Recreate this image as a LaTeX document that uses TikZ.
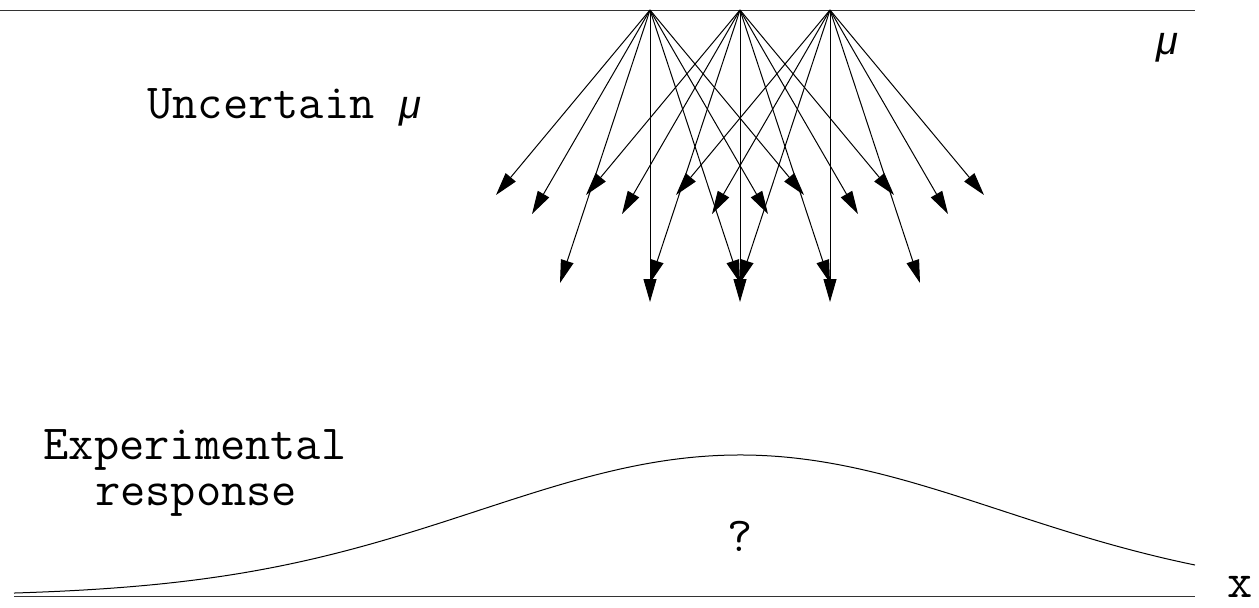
\documentclass[tikz,border=0pt]{standalone}
\usepackage{fontspec}
\setmainfont{Liberation Serif}
\newfontfamily\greekf{Liberation Sans}
\usetikzlibrary{arrows.meta}
\begin{document}
\begin{tikzpicture}[x=0.5pt,y=-0.5pt,
  lbl/.style={font=\ttfamily\fontsize{24.5}{29}\selectfont, inner sep=0pt},
  mu/.style={font=\greekf\itshape\fontsize{20}{26}\selectfont, inner sep=0pt},
  vec/.style={line width=0.5pt, -{Triangle[length=11.5pt,width=6.5pt]}},
  axis/.style={line width=0.5pt, draw=black!80}]
\useasboundingbox (0,0) rectangle (1259,607);
% axes
\coordinate (tl) at (0,10);
\coordinate (tr) at (1195,10);
\coordinate (bl) at (14,596);
\coordinate (br) at (1195,596);
\draw[axis] (tl) -- (tr);
\draw[axis] (bl) -- (br);
% sources and arrows
\foreach \i/\sx in {1/650,2/740,3/830}{
  \coordinate (s\i) at (\sx,10);
  \foreach \j/\dx/\dy in {1/-154/185,2/-118/204,3/-90/273,4/0/292,5/90/273,6/118/204,7/154/185}{
    \coordinate (e\i\j) at (\sx+\dx,10+\dy);
    \draw[vec] (s\i) -- (e\i\j);
  }
}
% bell curve
\draw[line width=0.5pt] plot[domain=14:1195,samples=120,smooth] (\x,{596-141*exp(-((\x-740)/369.66)^2)});
% labels
\node[lbl,anchor=base west] (unc) at (147,118) {Uncertain {\greekf\itshape\fontsize{20}{26}\selectfont μ}};
\node[mu,anchor=base] (mutop) at (1167,54) {μ};
\node[lbl,anchor=base] (exp) at (195,459) {Experimental};
\node[lbl,anchor=base] (resp) at (196,505) {response};
\node[lbl,anchor=base] (q) at (740,551) {?};
\node[lbl,anchor=base] (xl) at (1240,597) {x};
\end{tikzpicture}
\end{document}
